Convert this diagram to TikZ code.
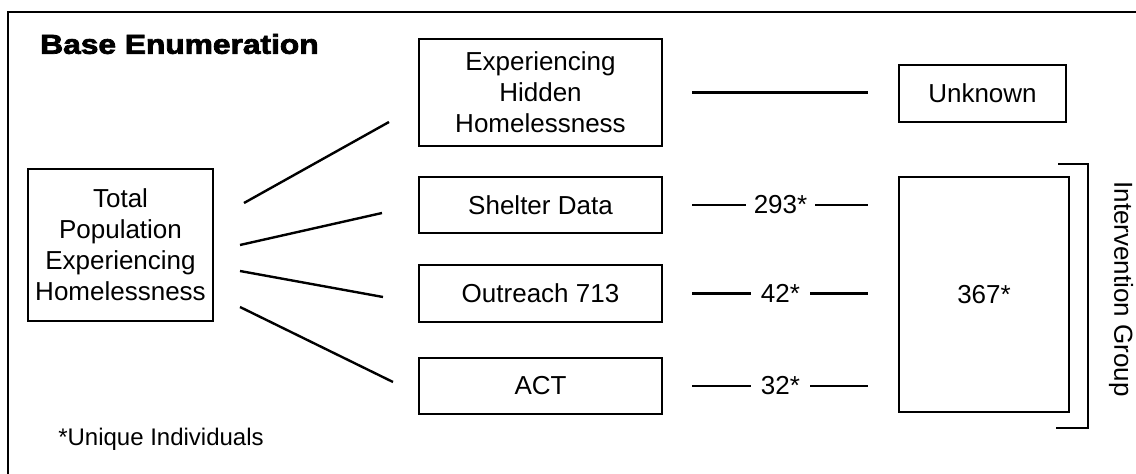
\documentclass[tikz,border=0pt]{standalone}
\usepackage{fontspec}
\setmainfont{Liberation Sans}
\newfontfamily\heavyfont{Liberation Sans Bold}[FakeBold=2.6]
\begin{document}
\begin{tikzpicture}[x=0.75pt,y=-0.75pt,
  box/.style={draw,line width=1.9pt,align=center,inner sep=0pt,
    font=\fontsize{19.5pt}{23.25pt}\selectfont},
  link/.style={line width=1.8pt},
  lbl/.style={fill=white,inner ysep=1pt,font=\fontsize{19.5pt}{23.25pt}\selectfont},
  frame/.style={line width=2.2pt}]
\useasboundingbox (0,0) rectangle (1136,474);
\draw[frame] (1136,12) -- (8,12) -- (8,474);
\node[anchor=west,inner sep=0pt] (title) at (40,44)
  {\scalebox{1.16}[1]{\heavyfont\fontsize{20.5pt}{22pt}\selectfont Base Enumeration}};

\node[box,minimum width=138.75pt,minimum height=114pt] (total) at (120.5,245)
  {Total\\Population\\Experiencing\\Homelessness};
\node[box,minimum width=182.25pt,minimum height=80.25pt] (hidden) at (540.5,92.5)
  {Experiencing\\Hidden\\Homelessness};
\node[box,minimum width=182.25pt,minimum height=42pt] (shelter) at (540.5,205) {Shelter Data};
\node[box,minimum width=182.25pt,minimum height=42.75pt] (outreach) at (540.5,293.5) {Outreach 713};
\node[box,minimum width=182.25pt,minimum height=42pt] (act) at (540.5,386) {ACT};
\node[box,minimum width=125.25pt,minimum height=42.75pt] (unknown) at (982.5,93.5) {Unknown};
\node[box,minimum width=127.5pt,minimum height=176.25pt] (group) at (984,294.5) {367*};

\coordinate (c1a) at (244,203); \coordinate (c1b) at (389,122);
\coordinate (c2a) at (240,245); \coordinate (c2b) at (382,213);
\coordinate (c3a) at (240,271); \coordinate (c3b) at (383,297);
\coordinate (c4a) at (240,307); \coordinate (c4b) at (393,382);
\draw[link] (c1a) -- (c1b);
\draw[link] (c2a) -- (c2b);
\draw[link] (c3a) -- (c3b);
\draw[link] (c4a) -- (c4b);

\draw[link,shorten <=21.75pt,shorten >=22.5pt] (hidden.east) -- (hidden.east -| unknown.west);
\draw[link,shorten <=21.75pt,shorten >=22.5pt] (shelter.east) -- (shelter.east -| group.west)
  node[lbl,midway,inner xsep=5.6pt] (n293) {293*};
\draw[link,shorten <=21.75pt,shorten >=22.5pt] (outreach.east) -- (outreach.east -| group.west)
  node[lbl,midway,inner xsep=7.5pt] (n42) {42*};
\draw[link,shorten <=21.75pt,shorten >=22.5pt] (act.east) -- (act.east -| group.west)
  node[lbl,midway,inner xsep=7.5pt] (n32) {32*};

\draw[link] (1058,164) -- (1088,164) -- (1088,428) -- (1056,428);
\node[rotate=-90,inner sep=0pt,font=\fontsize{19.5pt}{23.25pt}\selectfont] (ig) at (1121,289) {Intervention Group};

\node[anchor=west,inner sep=0pt,font=\fontsize{18pt}{21pt}\selectfont] (note) at (58,439) {*Unique Individuals};
\end{tikzpicture}
\end{document}
